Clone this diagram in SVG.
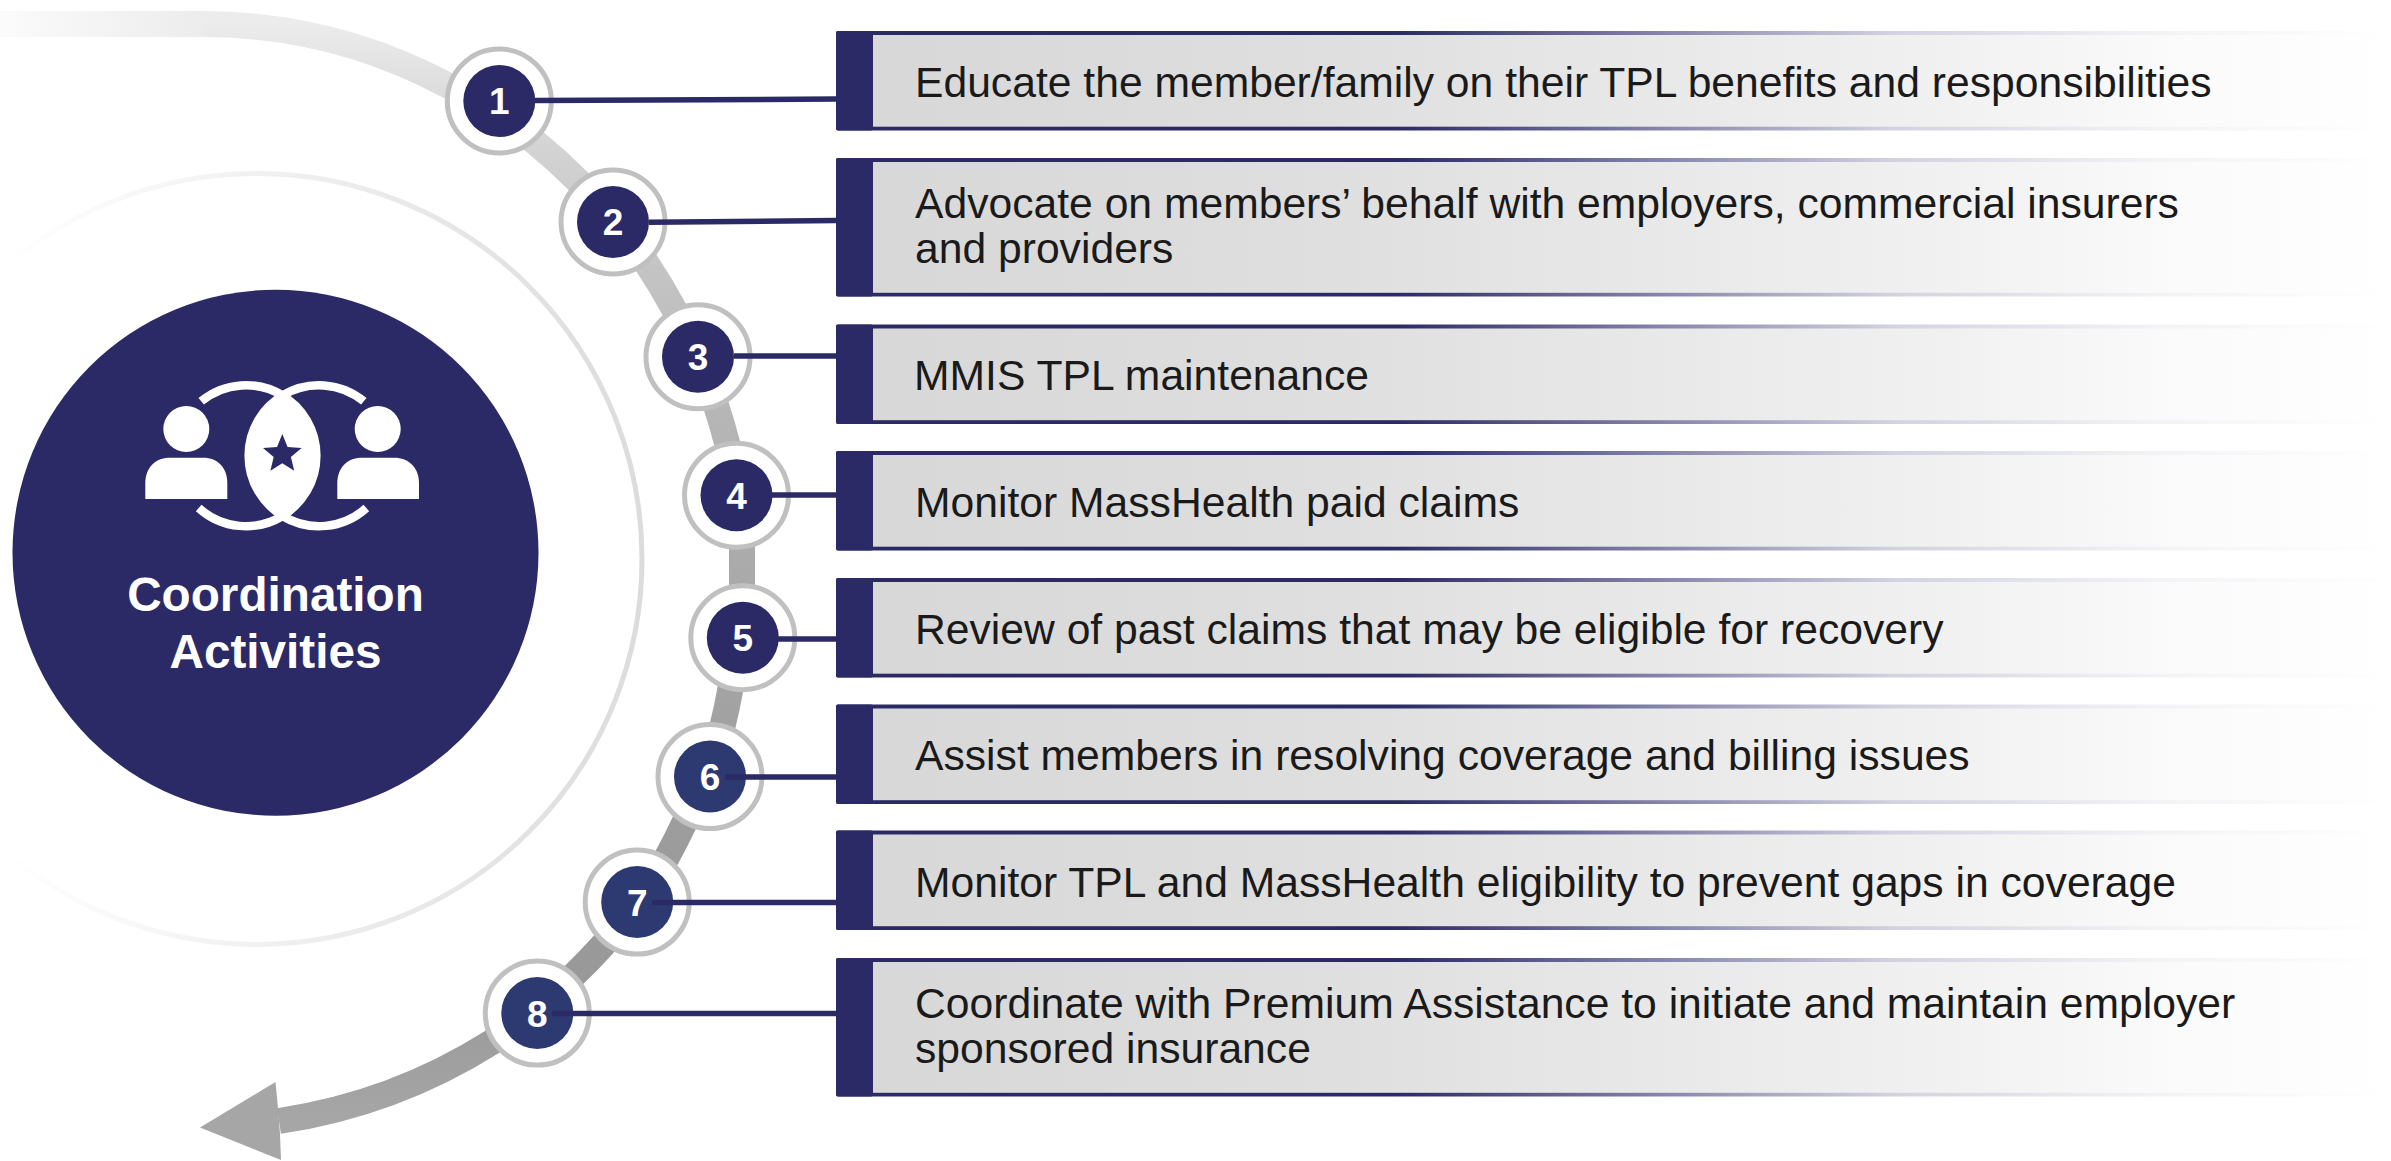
<svg xmlns="http://www.w3.org/2000/svg" width="2391" height="1161" viewBox="0 0 2391 1161">
<style>
.ring{fill:#fff;stroke:#c0c0c0;stroke-width:5}
.dot{fill:#2b2a66}
.dot2{fill:#2d3a72}
.num{font-family:"Liberation Sans",Arial,sans-serif;font-weight:700;font-size:37px;fill:#fff;text-anchor:middle}
.title{font-family:"Liberation Sans",Arial,sans-serif;font-weight:700;font-size:47.7px;fill:#fff;text-anchor:middle}
.lbl{font-family:"Liberation Sans",Arial,sans-serif;font-size:42.65px;fill:#1a1a1a}
.edge{fill:url(#edgeG)}
.bar{fill:#2b2a66}
.body{fill:url(#bodyG)}
.link{stroke:#2b2a66;stroke-width:5.5;fill:none}
.ic{fill:#fff}
.icl{fill:none;stroke:#fff;stroke-width:8.5}
</style>
<defs>
<linearGradient id="edgeG" gradientUnits="userSpaceOnUse" x1="836" y1="0" x2="2391" y2="0">
<stop offset="0" stop-color="#2b2a66"/><stop offset="0.36" stop-color="#2b2a66"/><stop offset="0.54" stop-color="#8a89ae"/><stop offset="0.68" stop-color="#d2d2e1"/><stop offset="0.85" stop-color="#f3f3f6"/><stop offset="1" stop-color="#fff"/>
</linearGradient>
<linearGradient id="bodyG" gradientUnits="userSpaceOnUse" x1="873" y1="0" x2="2391" y2="0">
<stop offset="0" stop-color="#d8d8d8"/><stop offset="0.15" stop-color="#dbdbdb"/><stop offset="0.28" stop-color="#dedede"/><stop offset="0.53" stop-color="#e9e9e9"/><stop offset="0.71" stop-color="#f1f1f1"/><stop offset="0.87" stop-color="#fbfbfb"/><stop offset="1" stop-color="#fff"/>
</linearGradient>
<linearGradient id="tailG" gradientUnits="userSpaceOnUse" x1="0" y1="0" x2="206" y2="0">
<stop offset="0" stop-color="#fbfbfb"/><stop offset="1" stop-color="#ececec"/>
</linearGradient>
<linearGradient id="arcG" gradientUnits="userSpaceOnUse" x1="0" y1="24" x2="0" y2="1121">
<stop offset="0" stop-color="#ececec"/><stop offset="0.056" stop-color="#dedede"/><stop offset="0.12" stop-color="#d2d2d2"/><stop offset="0.24" stop-color="#c2c2c2"/><stop offset="0.37" stop-color="#b5b5b5"/><stop offset="0.5" stop-color="#aaa"/><stop offset="0.63" stop-color="#a2a2a2"/><stop offset="0.75" stop-color="#9c9c9c"/><stop offset="0.87" stop-color="#999"/><stop offset="0.93" stop-color="#9e9e9e"/><stop offset="1" stop-color="#a6a6a6"/>
</linearGradient>
<linearGradient id="haloG" gradientUnits="userSpaceOnUse" x1="0" y1="0" x2="642" y2="0">
<stop offset="0" stop-color="#fff"/><stop offset="0.4" stop-color="#f1f1f1"/><stop offset="1" stop-color="#dcdcdc"/>
</linearGradient>
</defs>

<circle id="halo" cx="256.5" cy="559" r="385.5" fill="none" stroke="url(#haloG)" stroke-width="5"/>

<g id="hub">
<circle cx="275.5" cy="552.7" r="263" class="dot"/>
<g id="hub-icon">
<circle cx="186.3" cy="429" r="23" class="ic"/>
<path class="ic" d="M145.3 499V483C145.3 468 155 457.7 170 457.7H203C218 457.7 227.3 468 227.3 483V499Z"/>
<circle cx="377.7" cy="429" r="23" class="ic"/>
<path class="ic" d="M337.3 499V483C337.3 468 347 457.7 362 457.7H394C409 457.7 419 468 419 483V499Z"/>
<path class="icl" d="M201.2 401.3A70.5 70.5 0 0 1 282.5 395.4A70.5 70.5 0 0 1 363.8 401.3"/>
<path class="icl" d="M198.7 508A70.5 70.5 0 0 0 282.5 516A70.5 70.5 0 0 0 366.3 508"/>
<path class="ic" d="M282.5 390.7A74.5 74.5 0 0 1 282.5 520.7A74.5 74.5 0 0 1 282.5 390.7Z"/>
<polygon class="dot" points="282.3,434 287.6,447 301.6,448 290.9,457.1 294.2,470.7 282.3,463.3 270.4,470.7 273.7,457.1 263,448 277,447"/>
</g>
<text class="title" x="275.5" y="610.5">Coordination</text>
<text class="title" x="275.5" y="668">Activities</text>
</g>

<g id="flow">
<path d="M0 24H206" fill="none" stroke="url(#tailG)" stroke-width="26"/>
<path fill="none" stroke="url(#arcG)" stroke-width="26" d="M205 24A520 520 0 0 1 447 85A550 550 0 0 1 535 142A550 550 0 0 1 578 181A550 550 0 0 1 647 264A550 550 0 0 1 674.5 310A550 550 0 0 1 716.5 407A550 550 0 0 1 727 443A550 550 0 0 1 742 548.5L742 586A550 550 0 0 1 730 691A550 550 0 0 1 723 724A550 550 0 0 1 684 823.5A550 550 0 0 1 667 857A550 550 0 0 1 603 945A550 550 0 0 1 574.5 974.5A550 550 0 0 1 492 1042A550 550 0 0 1 279 1121"/>
<polygon fill="#a6a6a6" points="200,1127.5 275.5,1082 278,1108 280,1134 281,1160"/>
</g>

<g id="step-1"><circle class="ring" cx="499.3" cy="101" r="52"/><circle class="dot" cx="499.3" cy="101" r="36"/><text class="num" x="499.3" y="114">1</text></g>
<g id="step-2"><circle class="ring" cx="613" cy="222" r="52"/><circle class="dot" cx="613" cy="222" r="36"/><text class="num" x="613" y="235">2</text></g>
<g id="step-3"><circle class="ring" cx="698" cy="356.7" r="52"/><circle class="dot" cx="698" cy="356.7" r="36"/><text class="num" x="698" y="370">3</text></g>
<g id="step-4"><circle class="ring" cx="736.5" cy="495.2" r="52"/><circle class="dot" cx="736.5" cy="495.2" r="36"/><text class="num" x="736.5" y="508.5">4</text></g>
<g id="step-5"><circle class="ring" cx="742.8" cy="637.7" r="52"/><circle class="dot" cx="742.8" cy="637.7" r="36"/><text class="num" x="742.8" y="651">5</text></g>
<g id="step-6"><circle class="ring" cx="710" cy="776.6" r="52"/><circle class="dot2" cx="710" cy="776.6" r="36"/><text class="num" x="710" y="790">6</text></g>
<g id="step-7"><circle class="ring" cx="637.2" cy="902.1" r="52"/><circle class="dot2" cx="637.2" cy="902.1" r="36"/><text class="num" x="637.2" y="915.5">7</text></g>
<g id="step-8"><circle class="ring" cx="537.3" cy="1013.1" r="52"/><circle class="dot2" cx="537.3" cy="1013.1" r="36"/><text class="num" x="537.3" y="1026.5">8</text></g>

<g id="item-1"><rect class="edge" x="836" y="31" width="1555" height="99.5" rx="2"/><rect class="bar" x="836" y="31" width="37" height="99.5" rx="2"/><rect class="body" x="873" y="35" width="1518" height="91.7"/><text class="lbl" x="915" y="96.7">Educate the member/family on their TPL benefits and responsibilities</text></g>
<g id="item-2"><rect class="edge" x="836" y="158" width="1555" height="138.6" rx="2"/><rect class="bar" x="836" y="158" width="37" height="138.6" rx="2"/><rect class="body" x="873" y="162" width="1518" height="130.8"/><text class="lbl" x="915" y="218">Advocate on members’ behalf with employers, commercial insurers</text><text class="lbl" x="915" y="263">and providers</text></g>
<g id="item-3"><rect class="edge" x="836" y="324.5" width="1555" height="99.5" rx="2"/><rect class="bar" x="836" y="324.5" width="37" height="99.5" rx="2"/><rect class="body" x="873" y="328.5" width="1518" height="91.7"/><text class="lbl" x="914" y="390">MMIS TPL maintenance</text></g>
<g id="item-4"><rect class="edge" x="836" y="451" width="1555" height="99.5" rx="2"/><rect class="bar" x="836" y="451" width="37" height="99.5" rx="2"/><rect class="body" x="873" y="455" width="1518" height="91.7"/><text class="lbl" x="915" y="517">Monitor MassHealth paid claims</text></g>
<g id="item-5"><rect class="edge" x="836" y="578" width="1555" height="99.5" rx="2"/><rect class="bar" x="836" y="578" width="37" height="99.5" rx="2"/><rect class="body" x="873" y="582" width="1518" height="91.7"/><text class="lbl" x="915" y="644">Review of past claims that may be eligible for recovery</text></g>
<g id="item-6"><rect class="edge" x="836" y="704.5" width="1555" height="99.5" rx="2"/><rect class="bar" x="836" y="704.5" width="37" height="99.5" rx="2"/><rect class="body" x="873" y="708.5" width="1518" height="91.7"/><text class="lbl" x="915" y="770">Assist members in resolving coverage and billing issues</text></g>
<g id="item-7"><rect class="edge" x="836" y="830.5" width="1555" height="99.5" rx="2"/><rect class="bar" x="836" y="830.5" width="37" height="99.5" rx="2"/><rect class="body" x="873" y="834.5" width="1518" height="91.7"/><text class="lbl" x="915" y="897">Monitor TPL and MassHealth eligibility to prevent gaps in coverage</text></g>
<g id="item-8"><rect class="edge" x="836" y="958" width="1555" height="138.6" rx="2"/><rect class="bar" x="836" y="958" width="37" height="138.6" rx="2"/><rect class="body" x="873" y="962" width="1518" height="130.8"/><text class="lbl" x="915" y="1017.5">Coordinate with Premium Assistance to initiate and maintain employer</text><text class="lbl" x="915" y="1063">sponsored insurance</text></g>

<g id="connectors">
<line class="link" x1="535" y1="100.6" x2="836" y2="99"/>
<line class="link" x1="649" y1="222.3" x2="836" y2="220.5"/>
<line class="link" x1="734" y1="356" x2="836" y2="356"/>
<line class="link" x1="772" y1="495" x2="836" y2="495"/>
<line class="link" x1="778" y1="639" x2="836" y2="639"/>
<line class="link" x1="725" y1="777" x2="836" y2="777"/>
<line class="link" x1="652" y1="902.5" x2="836" y2="902.5"/>
<line class="link" x1="552" y1="1013.5" x2="836" y2="1013.5"/>
</g>
</svg>
